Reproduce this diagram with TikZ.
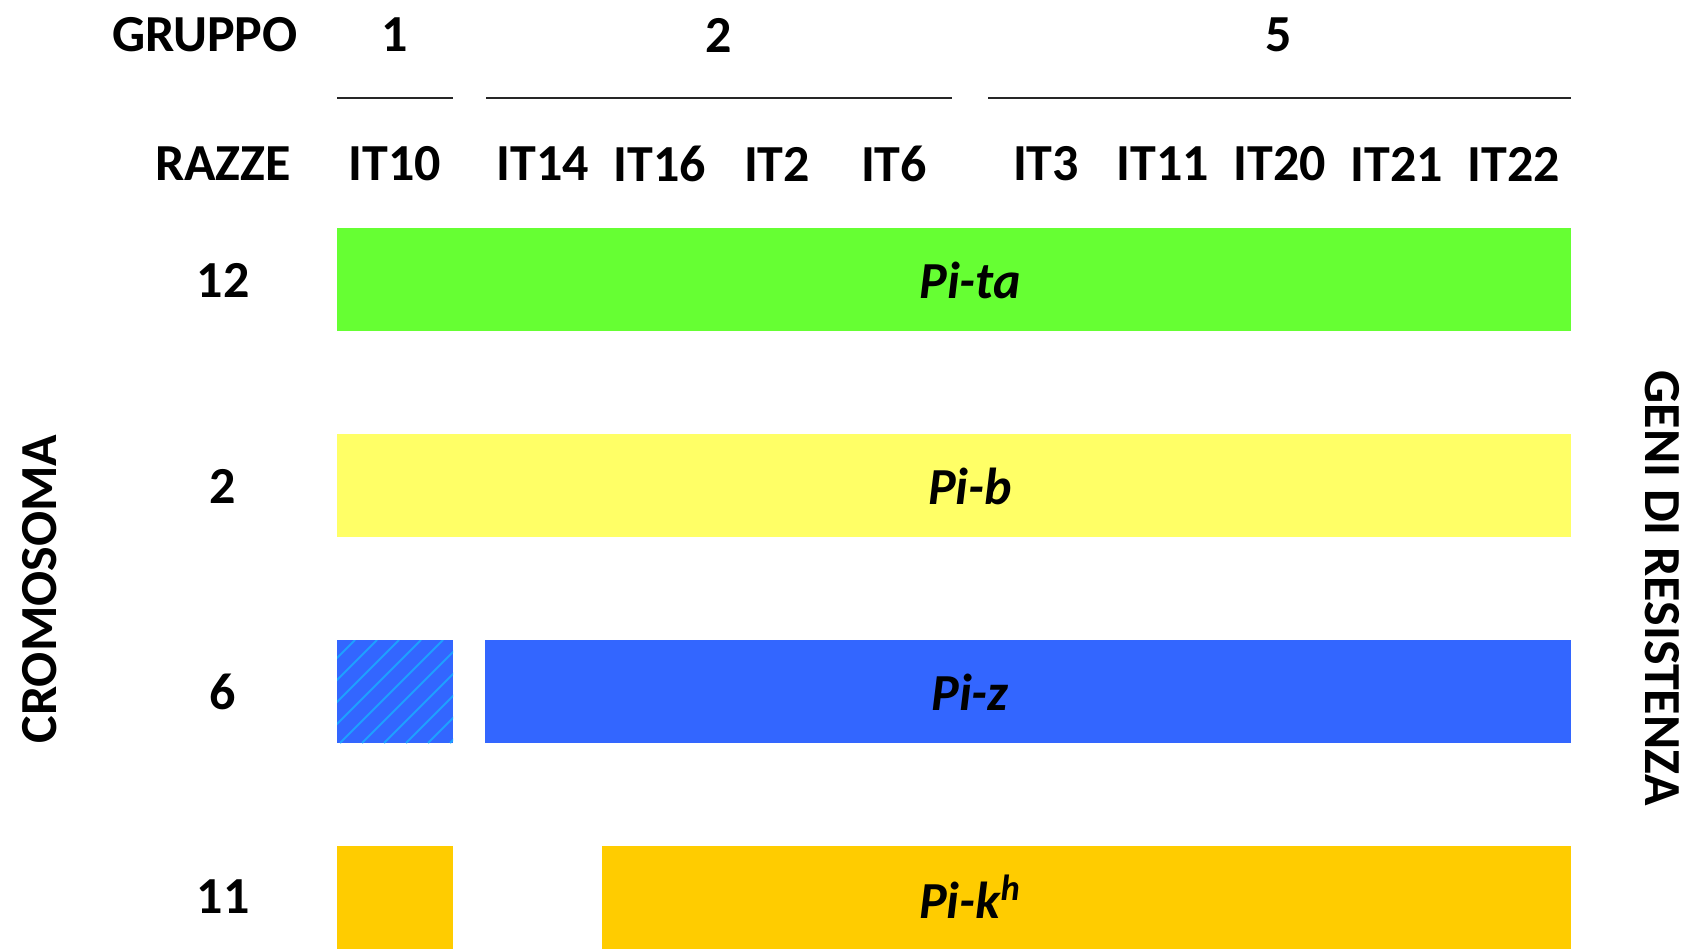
\documentclass[tikz,border=0pt]{standalone}
\usepackage{fontspec}
\setmainfont{Carlito}
\usetikzlibrary{positioning}

\definecolor{pitagreen}{RGB}{102,255,51}
\definecolor{pibyellow}{RGB}{255,255,102}
\definecolor{pizblue}{RGB}{51,102,255}
\definecolor{hatchblue}{RGB}{30,160,255}
\definecolor{pikorange}{RGB}{255,204,0}

\begin{document}
\begin{tikzpicture}[x=0.5pt, y=-0.5pt,
		lbl/.style={font=\fontsize{26}{30}\selectfont\bfseries, inner sep=0pt},
		gene/.style={font=\fontsize{26}{30}\selectfont\bfseries\itshape, inner sep=0pt},
		grpline/.style={line width=1pt, black!85}]
		\useasboundingbox (0,0) rectangle (1700,951);

		% Headers
		\begin{scope}
			\node (gruppo) at (205,35) [lbl] {GRUPPO};
			\node (grp_one) at (395,35) [lbl] {1};
			\node (grp_two) at (719,35) [lbl] {2};
			\node (grp_five) at (1279,35) [lbl] {5};

			\draw[grpline] (337,98) -- (453,98);
			\draw[grpline] (486,98) -- (952,98);
			\draw[grpline] (988,98) -- (1571,98);

			\node (razze) at (223,164) [lbl] {RAZZE};
			\node (it10) at (395,164) [lbl] {IT10};
			\node (it14) at (543,164) [lbl] {IT14};
			\node (it16) at (660,164) [lbl] {IT16};
			\node (it2) at (777,164) [lbl] {IT2};
			\node (it6) at (894,164) [lbl] {IT6};
			\node (it3) at (1046,164) [lbl] {IT3};
			\node (it11) at (1163,164) [lbl] {IT11};
			\node (it20) at (1280,164) [lbl] {IT20};
			\node (it21) at (1397,164) [lbl] {IT21};
			\node (it22) at (1514,164) [lbl] {IT22};
		\end{scope}

		% Side titles
		\node (cromosoma) at (40,589) [lbl, rotate=90] {CROMOSOMA};
		\node (geni) at (1662,588) [lbl, rotate=-90] {GENI DI RESISTENZA};

		% Chromosomes
		\begin{scope}
			\node (chr_twelve) at (223,280) [lbl] {12};
			\node (chr_two) at (223,486) [lbl] {2};
			\node (chr_six) at (223,692) [lbl] {6};
			\node (chr_eleven) at (223,897) [lbl] {11};
		\end{scope}

		% Bars
		\fill[pitagreen] (337,228) rectangle (1571,331);
		\fill[pibyellow] (337,434) rectangle (1571,537);
		\fill[pizblue] (337,640) rectangle (453,743);
		\begin{scope}
			\clip (337,640) rectangle (453,743);
			\foreach \x in {230,252,...,460}
				\draw[hatchblue, line width=1pt] (\x,743) -- ++(103,-103);
		\end{scope}
		\fill[pizblue] (485,640) rectangle (1571,743);
		\fill[pikorange] (337,846) rectangle (453,949);
		\fill[pikorange] (602,846) rectangle (1571,949);

		% Genes
		\begin{scope}
			\node (pita) at (970,280) [gene] {Pi-ta};
			\node (pib) at (970,486) [gene] {Pi-b};
			\node (piz) at (970,692) [gene] {Pi-z};
			\node (pikh) at (970,897) [gene] {Pi-k\textsuperscript{h}};
		\end{scope}

	\end{tikzpicture}
\end{document}
